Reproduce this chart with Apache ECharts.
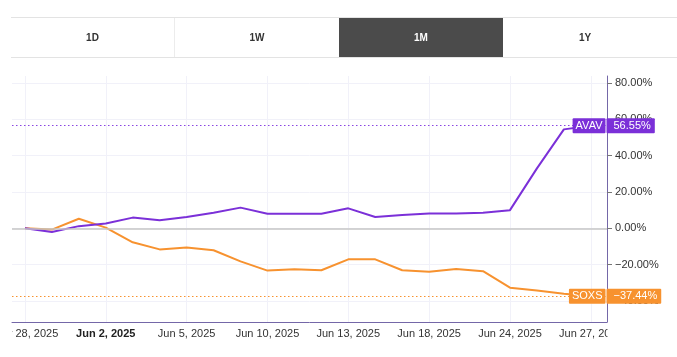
<!DOCTYPE html>
<html>
<head>
<meta charset="utf-8">
<script src="https://cdn.jsdelivr.net/npm/echarts@6/dist/echarts.min.js"></script>
<style>
  html, body { margin: 0; padding: 0; background: #fff; }
  #wrap { position: relative; width: 677px; height: 357px; overflow: hidden; }
  #chart { position: absolute; left: 0; top: 0; width: 677px; height: 357px; }
  #tabs { position: absolute; left: 11px; top: 17px; width: 666px; height: 39px;
          border-top: 1px solid #e3e3e3; border-bottom: 1px solid #e3e3e3; display: flex; z-index: 5; }
  .tab { width: 164px; height: 39px; line-height: 39px; text-align: center;
         font-family: "Liberation Sans", Arial, sans-serif; font-weight: bold; font-size: 10px; color: #333; box-sizing: border-box; }
  .tab.sep { border-right: 1px solid #ececec; }
  .tab.active { background: #4b4b4b; color: #fff; }
</style>
</head>
<body>
<div id="wrap">
  <div id="chart"></div>
  <div id="tabs">
    <div class="tab sep">1D</div>
    <div class="tab">1W</div>
    <div class="tab active">1M</div>
    <div class="tab">1Y</div>
  </div>
</div>
<script>
// ---- data ----
const dates = ['May 28, 2025','May 29, 2025','May 30, 2025','Jun 2, 2025','Jun 3, 2025','Jun 4, 2025',
  'Jun 5, 2025','Jun 6, 2025','Jun 9, 2025','Jun 10, 2025','Jun 11, 2025','Jun 12, 2025','Jun 13, 2025',
  'Jun 16, 2025','Jun 17, 2025','Jun 18, 2025','Jun 20, 2025','Jun 23, 2025','Jun 24, 2025',
  'Jun 25, 2025','Jun 26, 2025','Jun 27, 2025'];
const avavName = 'AVAV';
const avav = [0, -2.0, 1.2, 2.6, 5.9, 4.4, 6.2, 8.6, 11.4, 8.0, 8.0, 8.0, 11.0, 6.2, 7.3, 8.1, 8.1, 8.6, 10.0, 33.0, 54.5, 56.55];
const soxsName = 'SOXS';
const soxs = [0, -0.7, 5.3, 0.4, -7.7, -11.6, -10.6, -12.1, -18.2, -23.3, -22.6, -23.1, -17.1, -17.1, -23.1, -23.9, -22.4, -23.6, -32.7, -34.3, -36.0, -37.44];
const yTickValues = [-40, -20, 0, 20, 40, 60, 80];
const xTickIndex = [0, 3, 6, 9, 12, 15, 18, 21];
const boldLabelIndex = [3];

// ---- chart ----
const PURPLE = '#7b30d8';
const ORANGE = '#f7922f';
const AXIS = '#7467a8';
const GRID = '#f1f1f9';
const FONT = '"Liberation Sans", Arial, sans-serif';
const X_MIN = -0.48, X_MAX = 21.6;

function pct(v) {
  const s = Math.abs(v).toFixed(2) + '%';
  return (v < 0 ? '\u2212' : '') + s;
}

function tags(name, values, color) {
  const last = values[values.length - 1];
  const base = {
    coord: [X_MAX, last], symbol: 'rect', symbolSize: 1,
    itemStyle: { color: 'rgba(0,0,0,0)' }
  };
  const lab = {
    show: true, color: '#fff', fontFamily: FONT, fontSize: 11,
    backgroundColor: color, padding: [2, 3, 1, 3], lineHeight: 12,
    borderRadius: 1, verticalAlign: 'middle', distance: 1
  };
  return {
    symbol: 'rect', silent: true, animation: false,
    data: [
      Object.assign({}, base, { label: Object.assign({}, lab, { position: 'left', formatter: name }) }),
      Object.assign({}, base, { label: Object.assign({}, lab, { position: 'right', distance: -1, padding: [2, 4, 1, 7], formatter: pct(last) }) })
    ]
  };
}

function lastLine(values, color, extra) {
  const last = values[values.length - 1];
  const data = [{ yAxis: last, lineStyle: { color: color, type: [1.5, 2.5], width: 1.2 } }];
  if (extra) data.unshift(extra);
  return { symbol: 'none', silent: true, animation: false, label: { show: false }, data: data };
}

const chart = echarts.init(document.getElementById('chart'));
chart.setOption({
  animation: false,
  grid: { left: 12, right: 70, top: 76, bottom: 35, containLabel: false, outerBoundsMode: 'none' },
  xAxis: {
    type: 'value', min: X_MIN, max: X_MAX,
    axisLine: { show: true, onZero: false, lineStyle: { color: AXIS, width: 1 } },
    axisTick: { show: false, customValues: xTickIndex },
    axisLabel: {
      customValues: xTickIndex, color: '#333', fontFamily: FONT, fontSize: 11, margin: 6, hideOverlap: false,
      formatter: function (v) {
        const i = Math.round(v);
        return boldLabelIndex.indexOf(i) >= 0 ? '{b|' + dates[i] + '}' : dates[i];
      },
      rich: { b: { fontWeight: 'bold', color: '#222', fontFamily: FONT, fontSize: 11 } }
    },
    splitLine: { show: true, lineStyle: { color: GRID, width: 1 } }
  },
  yAxis: {
    type: 'value', position: 'right', min: -51.6, max: 83.9,
    axisLine: { show: true, onZero: false, lineStyle: { color: AXIS, width: 1 } },
    axisTick: { show: true, customValues: yTickValues, length: 5, lineStyle: { color: '#777' } },
    axisLabel: { customValues: yTickValues, color: '#333', fontFamily: FONT, fontSize: 11, margin: 8, formatter: pct },
    splitLine: { show: true, lineStyle: { color: GRID, width: 1 } }
  },
  series: [
    {
      name: soxsName, type: 'line', showSymbol: false, symbol: 'none',
      data: soxs.map((v, i) => [i, v]),
      lineStyle: { color: ORANGE, width: 2 }, itemStyle: { color: ORANGE },
      markLine: lastLine(soxs, ORANGE),
      markPoint: tags(soxsName, soxs, ORANGE), z: 3
    },
    {
      name: avavName, type: 'line', showSymbol: false, symbol: 'none',
      data: avav.map((v, i) => [i, v]),
      lineStyle: { color: PURPLE, width: 2 }, itemStyle: { color: PURPLE },
      markLine: lastLine(avav, '#8a45e2', { yAxis: 0, lineStyle: { color: '#c6c6c6', type: 'solid', width: 1.5 } }),
      markPoint: tags(avavName, avav, PURPLE), z: 4
    }
  ],
  graphic: [
    { type: 'rect', z: 100, silent: true, shape: { x: 0, y: 323, width: 12, height: 34 }, style: { fill: '#fff' } },
    { type: 'rect', z: 100, silent: true, shape: { x: 607.5, y: 323, width: 70, height: 34 }, style: { fill: '#fff' } }
  ]
});
</script>
</body>
</html>
